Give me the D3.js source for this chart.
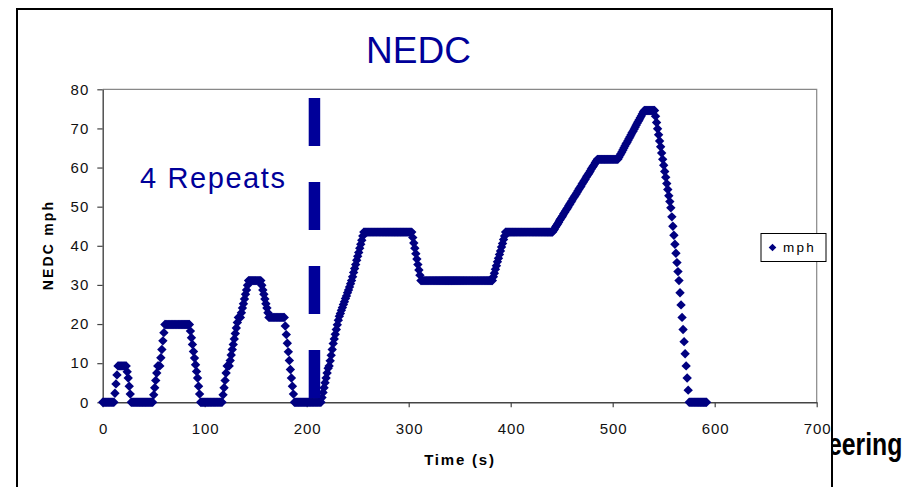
<!DOCTYPE html>
<html>
<head>
<meta charset="utf-8">
<script src="https://cdn.jsdelivr.net/npm/d3@7"></script>
<style>
  html, body { margin: 0; padding: 0; background: #fff; }
  svg { display: block; font-family: "Liberation Sans", Arial, Helvetica, sans-serif; }
</style>
</head>
<body>
<svg id="chart" width="920" height="487"></svg>
<script>
// ---- data -------------------------------------------------------------
const chartTitle = "NEDC";
const seriesName = "mph";
const xLabel = "Time (s)";
const yLabel = "NEDC mph";
const footerText = "eering";
const xTicks = [0, 100, 200, 300, 400, 500, 600, 700];
const yTicks = [0, 10, 20, 30, 40, 50, 60, 70, 80];
const sampleStep = 1; // seconds between samples

// vehicle speed in mph, one sample per second from t = 0 s
const mph = [
  // urban part (0–188 s)
  0,0,0,0,0,0,0,0,0,0,0,0,
  2.3,4.7,7.0,9.3,
  9.3,9.3,9.3,9.3,9.3,9.3,9.3,9.3,
  7.8,6.2,4.1,2.1,0,
  0,0,0,0,0,0,0,0,0,0,0,0,0,0,0,0,0,0,0,0,0,
  1.9,3.7,5.6,7.5,9.3,
  9.3,9.3,
  11.4,13.5,15.7,17.8,19.9,
  19.9,19.9,19.9,19.9,19.9,19.9,19.9,19.9,19.9,19.9,19.9,19.9,
  19.9,19.9,19.9,19.9,19.9,19.9,19.9,19.9,19.9,19.9,19.9,19.9,
  18.2,16.5,14.8,13.0,11.3,9.6,7.9,6.2,4.1,2.1,0,
  0,0,0,0,0,0,0,0,0,0,0,0,0,0,0,0,0,0,0,0,0,
  1.9,3.7,5.6,7.5,9.3,
  9.3,9.3,
  10.7,12.1,13.5,14.8,16.2,17.6,19.0,20.4,21.7,
  21.7,21.7,
  22.9,24.1,25.2,26.4,27.6,28.7,29.9,31.1,
  31.1,31.1,31.1,31.1,31.1,31.1,31.1,31.1,31.1,31.1,31.1,31.1,
  29.9,28.7,27.6,26.4,25.2,24.1,22.9,21.7,
  21.7,21.7,21.7,21.7,21.7,21.7,21.7,21.7,21.7,21.7,21.7,21.7,21.7,21.7,21.7,
  19.5,17.3,15.1,12.9,10.7,8.4,6.2,4.1,2.1,0,
  // idle (189–214 s)
  0,0,0,0,0,0,0,0,0,0,0,0,0,0,0,0,0,0,0,0,0,0,0,0,0,0,
  // extra-urban part (215–592 s)
  1.2,2.5,3.7,5.0,6.2,7.5,8.7,9.3,10.6,12.0,13.5,15.0,
  16.2,17.4,18.6,19.8,21.0,22.0,
  22.7,23.5,24.2,25.0,25.7,26.5,27.2,28.0,28.7,29.5,30.3,31.1,
  32.1,33.2,34.2,35.2,36.3,37.3,38.3,39.4,40.4,41.4,42.5,43.5,
  43.5,43.5,43.5,43.5,43.5,43.5,43.5,43.5,43.5,43.5,
  43.5,43.5,43.5,43.5,43.5,43.5,43.5,43.5,43.5,43.5,
  43.5,43.5,43.5,43.5,43.5,43.5,43.5,43.5,43.5,43.5,
  43.5,43.5,43.5,43.5,43.5,43.5,43.5,43.5,43.5,43.5,
  43.5,43.5,43.5,43.5,43.5,43.5,43.5,
  42.1,40.7,39.4,38.0,36.6,35.2,33.8,32.5,31.1,
  31.1,31.1,31.1,31.1,31.1,31.1,31.1,31.1,31.1,31.1,
  31.1,31.1,31.1,31.1,31.1,31.1,31.1,31.1,31.1,31.1,
  31.1,31.1,31.1,31.1,31.1,31.1,31.1,31.1,31.1,31.1,
  31.1,31.1,31.1,31.1,31.1,31.1,31.1,31.1,31.1,31.1,
  31.1,31.1,31.1,31.1,31.1,31.1,31.1,31.1,31.1,31.1,
  31.1,31.1,31.1,31.1,31.1,31.1,31.1,31.1,31.1,31.1,
  31.1,31.1,31.1,31.1,31.1,31.1,31.1,31.1,31.1,31.1,
  32.1,33.0,34.0,34.9,35.9,36.8,37.8,38.7,39.7,40.6,41.6,42.5,43.5,
  43.5,43.5,43.5,43.5,43.5,43.5,43.5,43.5,43.5,43.5,
  43.5,43.5,43.5,43.5,43.5,43.5,43.5,43.5,43.5,43.5,
  43.5,43.5,43.5,43.5,43.5,43.5,43.5,43.5,43.5,43.5,
  43.5,43.5,43.5,43.5,43.5,43.5,43.5,43.5,43.5,43.5,
  43.5,43.5,43.5,43.5,43.5,43.5,
  43.9,44.3,44.8,45.2,45.6,46.0,46.5,46.9,47.3,47.7,
  48.2,48.6,49.0,49.4,49.8,50.3,50.7,51.1,51.5,52.0,
  52.4,52.8,53.2,53.6,54.1,54.5,54.9,55.3,55.8,56.2,
  56.6,57.0,57.5,57.9,58.3,58.7,59.1,59.6,60.0,60.4,
  60.8,61.3,61.7,62.1,
  62.1,62.1,62.1,62.1,62.1,62.1,62.1,62.1,62.1,62.1,
  62.1,62.1,62.1,62.1,62.1,62.1,62.1,62.1,62.1,62.1,
  62.6,63.1,63.5,64.0,64.5,65.0,65.5,66.0,66.4,66.9,
  67.4,67.9,68.4,68.9,69.3,69.8,70.3,70.8,71.3,71.8,
  72.2,72.7,73.2,73.7,74.2,74.6,
  74.6,74.6,74.6,74.6,74.6,74.6,74.6,74.6,74.6,74.6,
  73.1,71.5,69.9,68.4,66.8,65.3,63.7,62.1,60.6,59.0,
  57.5,55.9,54.4,52.8,51.3,49.7,
  47.4,45.0,42.7,40.4,38.1,35.7,33.4,31.1,
  28.0,24.9,21.7,18.6,15.5,12.4,9.3,6.2,3.1,0,
  0,0,0,0,0,0,0,0,0,0,0,0,0,0,0,0,0
];

// dashed divider marking where the urban part is repeated
const repeatNote = "4 Repeats";
const repeatDivider = { time: 207.6, top: 77.8, bottom: 0 };

// ---- drawing ------------------------------------------------------------
const svg = d3.select("#chart");
const navy = "#000080";
const blue = "#000099";

const x = d3.scaleLinear().domain([0, 700]).range([102.7, 816.7]);
const y = d3.scaleLinear().domain([0, 80]).range([402.3, 89.3]);

// slide footer text, its start tucked under the chart frame
svg.append("text")
  .attr("transform", "translate(828,455) scale(0.8,1)")
  .attr("font-size", 31)
  .attr("font-weight", "bold")
  .attr("fill", "#000")
  .text(footerText);

// chart frame
svg.append("rect")
  .attr("x", 17).attr("y", 9)
  .attr("width", 815).attr("height", 500)
  .attr("fill", "#fff")
  .attr("stroke", "#000")
  .attr("stroke-width", 2);

// title
svg.append("text")
  .attr("x", 418.5).attr("y", 63.3)
  .attr("text-anchor", "middle")
  .attr("font-size", 37)
  .attr("fill", blue)
  .text(chartTitle);

// plot-area border (top and right)
svg.append("path")
  .attr("d", `M${x(0)},${y(80)}H${x(700)}V${y(0)}`)
  .attr("fill", "none")
  .attr("stroke", "#888")
  .attr("stroke-width", 1.2);

// axes
const tickFont = 15;
const yAxis = svg.append("g")
  .attr("transform", `translate(${x(0)},0)`)
  .call(d3.axisLeft(y).tickValues(yTicks).tickSize(5.4).tickPadding(8).tickSizeOuter(0));
const xAxis = svg.append("g")
  .attr("transform", `translate(0,${y(0)})`)
  .call(d3.axisBottom(x).tickValues(xTicks).tickSize(5).tickPadding(16).tickSizeOuter(0));

[yAxis, xAxis].forEach(g => {
  g.select(".domain").attr("stroke", "#444").attr("stroke-width", 1.4);
  g.selectAll(".tick line").attr("stroke", "#444").attr("stroke-width", 1.2);
  g.selectAll(".tick text")
    .attr("font-family", "'Liberation Sans', Arial, sans-serif")
    .attr("font-size", tickFont)
    .attr("letter-spacing", "1px")
    .attr("fill", "#111");
});
xAxis.selectAll(".tick text").attr("dx", "0.5px");

// speed samples as diamond markers
const diamond = "M0,-4.7L4.7,0L0,4.7L-4.7,0Z";
svg.append("g")
  .selectAll("path")
  .data(mph)
  .join("path")
  .attr("d", diamond)
  .attr("transform", (v, i) => `translate(${x(i * sampleStep)},${y(v)})`)
  .attr("fill", navy);

// dashed divider
svg.append("line")
  .attr("x1", x(repeatDivider.time)).attr("x2", x(repeatDivider.time))
  .attr("y1", y(repeatDivider.top)).attr("y2", y(repeatDivider.bottom))
  .attr("stroke", blue)
  .attr("stroke-width", 11.5)
  .attr("stroke-dasharray", "48,36");

svg.append("text")
  .attr("x", 140).attr("y", 187.5)
  .attr("font-size", 29)
  .attr("fill", blue)
  .attr("textLength", 145)
  .attr("lengthAdjust", "spacing")
  .text(repeatNote);

// axis titles
svg.append("text")
  .attr("transform", `translate(53,245) rotate(-90)`)
  .attr("text-anchor", "middle")
  .attr("font-size", 14)
  .attr("font-weight", "bold")
  .attr("letter-spacing", "2.2px")
  .attr("fill", "#000")
  .text(yLabel);

svg.append("text")
  .attr("x", 460).attr("y", 465)
  .attr("text-anchor", "middle")
  .attr("font-size", 15)
  .attr("font-weight", "bold")
  .attr("letter-spacing", "1.8px")
  .attr("fill", "#000")
  .text(xLabel);

// legend
const legend = svg.append("g").attr("transform", "translate(761,233.5)");
legend.append("rect")
  .attr("width", 65).attr("height", 28)
  .attr("fill", "#fff")
  .attr("stroke", "#000")
  .attr("stroke-width", 1);
legend.append("path")
  .attr("d", "M0,-3.8L3.8,0L0,3.8L-3.8,0Z")
  .attr("transform", "translate(11.5,14)")
  .attr("fill", navy);
legend.append("text")
  .attr("x", 22).attr("y", 18.8)
  .attr("font-size", 13.5)
  .attr("letter-spacing", "2.3px")
  .attr("fill", "#000")
  .text(seriesName);
</script>
</body>
</html>
